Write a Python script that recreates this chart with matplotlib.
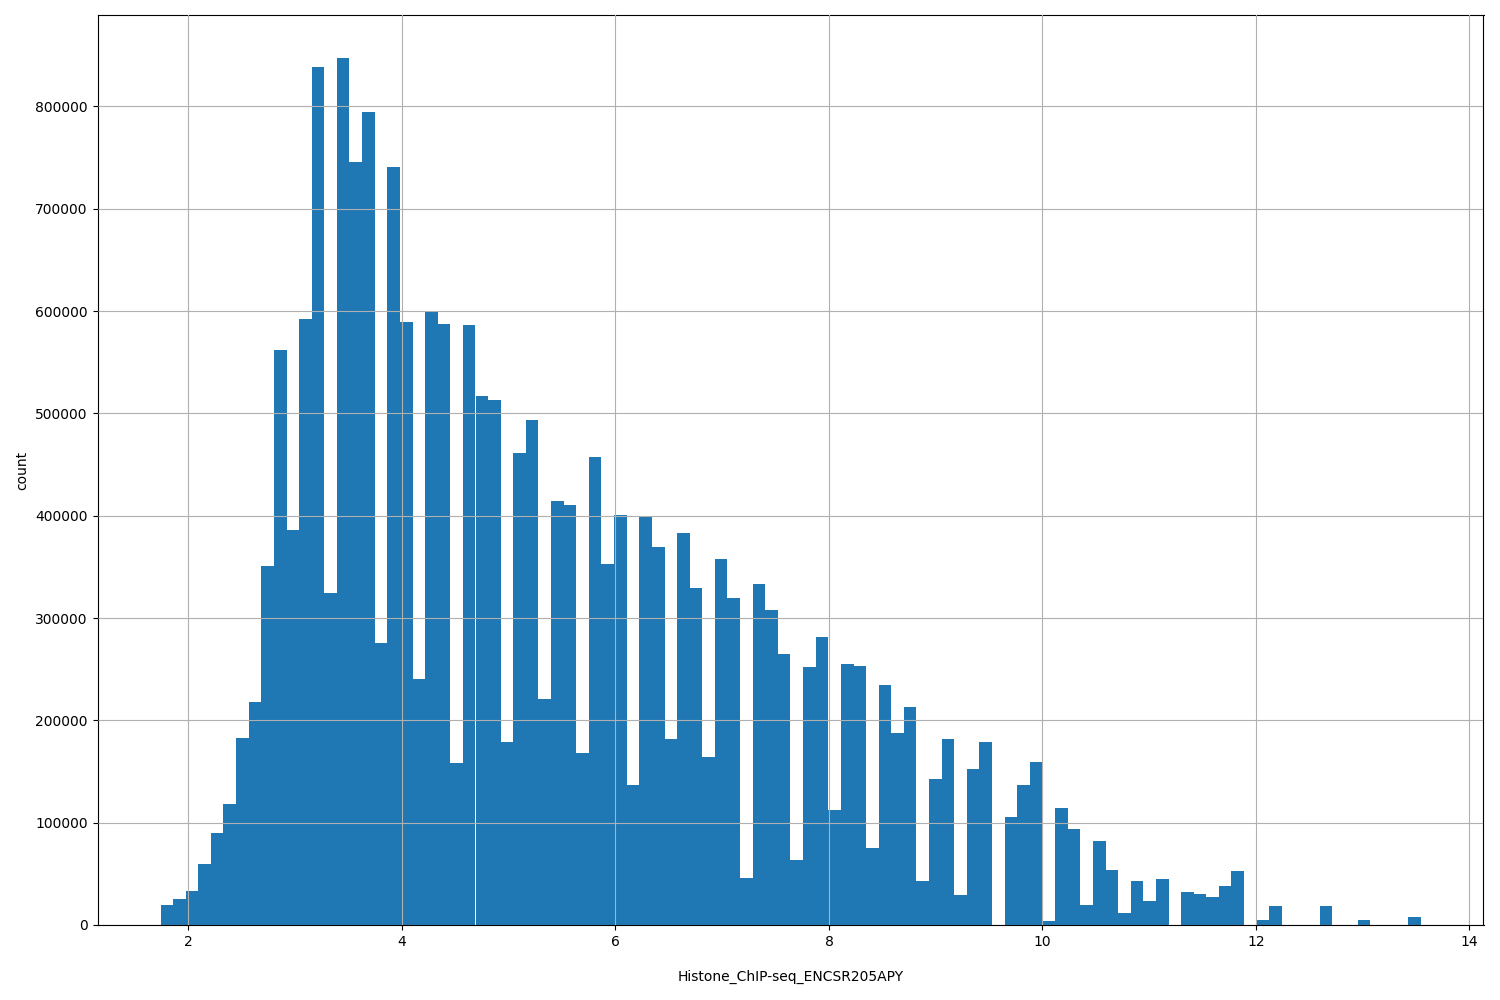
import numpy as np
import matplotlib
matplotlib.use("Agg")
import matplotlib.pyplot as plt

# histogram range and bin counts (100 bins)
x_min = 1.738
x_max = 13.541
counts = [
    20000, 25000, 33000, 60000, 90000, 118000, 183000, 218000, 351000, 562000,
    386000, 592000, 839000, 324000, 847000, 746000, 795000, 276000, 741000, 589000,
    240000, 600000, 587000, 158000, 586000, 517000, 513000, 179000, 461000, 494000,
    221000, 414000, 410000, 168000, 457000, 353000, 401000, 137000, 399000, 369000,
    182000, 383000, 329000, 164000, 358000, 320000, 46000, 333000, 308000, 265000,
    64000, 252000, 281000, 112000, 255000, 253000, 75000, 235000, 188000, 213000,
    43000, 143000, 182000, 29000, 152000, 179000, 0, 106000, 137000, 159000,
    4000, 114000, 94000, 20000, 82000, 54000, 12000, 43000, 23000, 45000,
    0, 32000, 30000, 27000, 38000, 53000, 0, 5000, 19000, 0,
    0, 0, 19000, 0, 0, 5000, 0, 0, 0, 8000,
]

edges = np.linspace(x_min, x_max, len(counts) + 1)
centers = (edges[:-1] + edges[1:]) / 2

fig, ax = plt.subplots(figsize=(15, 10), dpi=100)
ax.hist(centers, bins=edges, weights=counts, color="#1f77b4")
ax.grid(True, color="#b0b0b0")
ax.set_axisbelow(False)
ax.set_xlabel("Histone_ChIP-seq_ENCSR205APY", labelpad=15)
ax.set_ylabel("count")
fig.subplots_adjust(left=0.065, right=0.989, top=0.985, bottom=0.075)
fig.savefig("out.png")
